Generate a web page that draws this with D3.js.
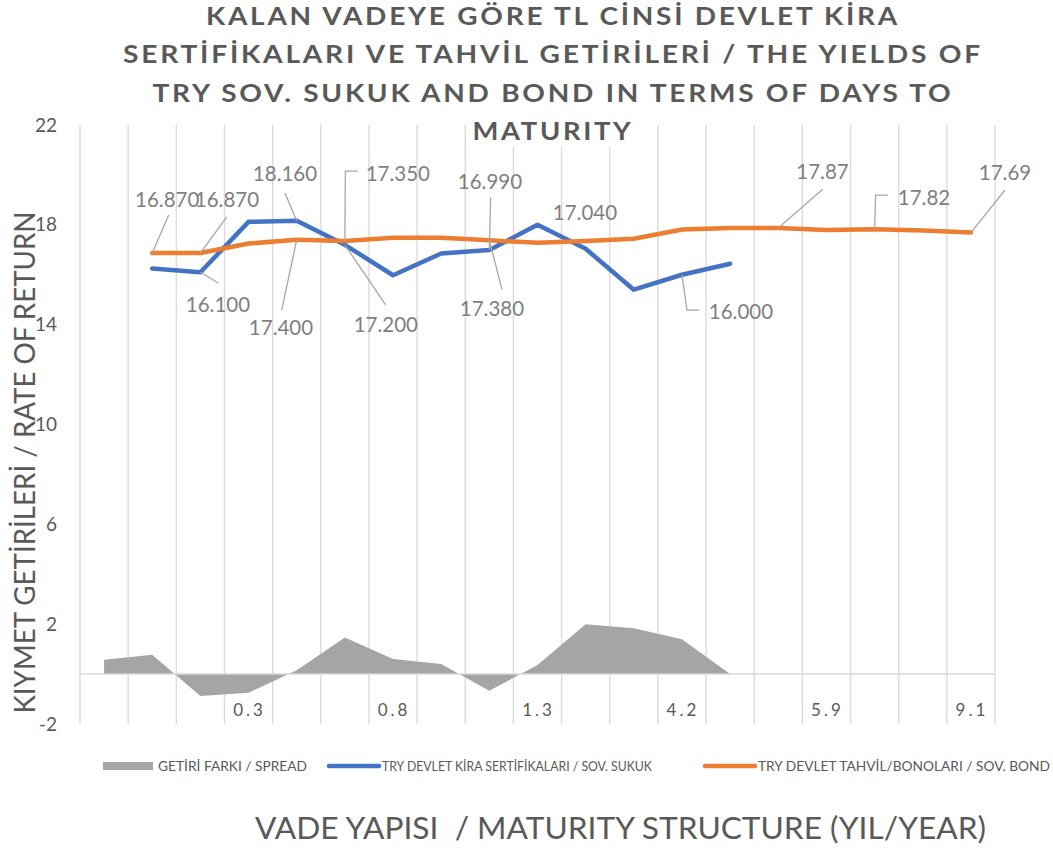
<!DOCTYPE html>
<html>
<head>
<meta charset="utf-8">
<script src="https://cdn.jsdelivr.net/npm/d3@7"></script>
<style>
  body { margin: 0; background: #fff; }
  svg text { font-family: Lato, "Open Sans", sans-serif; }
</style>
</head>
<body>
<div id="chart"></div>
<script>
// maturity categories (only every third one carries a label)
var categories = ["", "", "", "0.3", "", "", "0.8", "", "", "1.3", "", "", "4.2", "", "", "5.9", "", "", "9.1"];
// getiri farki / spread (area)
var spread = [0.57, 0.77, -0.88, -0.75, 0.15, 1.47, 0.60, 0.40, -0.67, 0.36, 2.00, 1.84, 1.40, 0];
// sov. sukuk yields
var sukuk = [null, 16.25, 16.10, 18.12, 18.16, 17.20, 15.98, 16.85, 16.99, 18.00, 17.04, 15.40, 16.00, 16.44];
// sov. bond yields
var bond = [null, 16.87, 16.87, 17.25, 17.40, 17.35, 17.48, 17.48, 17.38, 17.28, 17.35, 17.44, 17.81, 17.87, 17.87, 17.79, 17.82, 17.77, 17.69];
var yTicks = [-2, 2, 6, 10, 14, 18, 22];

var titleLines = [
  "KALAN VADEYE GÖRE TL CİNSİ DEVLET KİRA",
  "SERTİFİKALARI VE TAHVİL GETİRİLERİ / THE YIELDS OF",
  "TRY SOV. SUKUK AND BOND IN TERMS OF DAYS TO",
  "MATURITY"
];

var width = 1053, height = 848;
var grey = "#595959";

var svg = d3.select("#chart").append("svg")
    .attr("width", width)
    .attr("height", height);

var x = d3.scaleBand()
    .domain(d3.range(categories.length))
    .range([80, 995]);
var y = d3.scaleLinear()
    .domain([-2, 22])
    .range([724, 125]);
var cx = function(i) { return x(i) + x.bandwidth() / 2; };

// vertical gridlines between categories
var edges = d3.range(categories.length + 1).map(function(k) { return 80 + k * x.bandwidth(); });
svg.append("g").selectAll("line")
    .data(edges)
    .enter().append("line")
    .attr("x1", function(d) { return d; })
    .attr("x2", function(d) { return d; })
    .attr("y1", y(22))
    .attr("y2", y(-2))
    .attr("stroke", "#d9d9d9")
    .attr("stroke-width", 1.3);

// spread area
var area = d3.area()
    .x(function(d, i) { return cx(i); })
    .y0(y(0))
    .y1(function(d) { return y(d); });
svg.append("path")
    .datum(spread)
    .attr("d", area)
    .attr("fill", "#a5a5a5");

// category axis at zero
svg.append("line")
    .attr("x1", 80).attr("x2", 995)
    .attr("y1", y(0)).attr("y2", y(0))
    .attr("stroke", "#d9d9d9")
    .attr("stroke-width", 1.5);

// y tick labels
svg.append("g").selectAll("text")
    .data(yTicks)
    .enter().append("text")
    .attr("x", 57)
    .attr("y", function(d) { return y(d); })
    .attr("dy", "0.35em")
    .attr("text-anchor", "end")
    .attr("font-size", 19)
    .attr("fill", grey)
    .text(function(d) { return d; });

// x tick labels
svg.append("g").selectAll("text")
    .data(categories.map(function(c, i) { return {c: c, i: i}; }).filter(function(d) { return d.c; }))
    .enter().append("text")
    .attr("x", function(d) { return cx(d.i) + 1; })
    .attr("y", 710)
    .attr("dy", "0.35em")
    .attr("text-anchor", "middle")
    .attr("font-size", 17)
    .attr("letter-spacing", 3)
    .attr("fill", grey)
    .text(function(d) { return d.c; });

// lines
var line = d3.line()
    .defined(function(d) { return d != null; })
    .x(function(d, i) { return cx(i); })
    .y(function(d) { return y(d); });
svg.append("path")
    .datum(sukuk)
    .attr("d", line)
    .attr("fill", "none")
    .attr("stroke", "#4472c4")
    .attr("stroke-width", 4.5)
    .attr("stroke-linejoin", "round")
    .attr("stroke-linecap", "round");
svg.append("path")
    .datum(bond)
    .attr("d", line)
    .attr("fill", "none")
    .attr("stroke", "#ed7d31")
    .attr("stroke-width", 4.5)
    .attr("stroke-linejoin", "round")
    .attr("stroke-linecap", "round");

// data labels: label centre offset and leader points, relative to the point
var labelLayout = [
  {s: bond,  i: 1,  f: 3, dx: 15,   dy: -53,  lead: [[16.5, -38]]},
  {s: bond,  i: 2,  f: 3, dx: 26.6, dy: -53,  lead: [[26.2, -36]]},
  {s: sukuk, i: 2,  f: 3, dx: 17.6, dy: 33,   lead: [[18.3, 11]]},
  {s: sukuk, i: 4,  f: 3, dx: -11.7, dy: -47.5, lead: [[-11.7, -27.5]]},
  {s: bond,  i: 4,  f: 3, dx: -15.7, dy: 88.5, lead: [[-15, 70]]},
  {s: bond,  i: 5,  f: 3, dx: 53,   dy: -67.7, lead: [[0.5, -70], [13, -70]]},
  {s: sukuk, i: 5,  f: 3, dx: 41,   dy: 80,   lead: [[40.8, 60]]},
  {s: sukuk, i: 8,  f: 3, dx: 0.6,  dy: -68.3, lead: [[1.3, -52.7]]},
  {s: bond,  i: 8,  f: 3, dx: 2.6,  dy: 69,   lead: [[12.6, 49]]},
  {s: sukuk, i: 10, f: 3, dx: -0.7, dy: -35.5, lead: []},
  {s: sukuk, i: 12, f: 3, dx: 59,   dy: 37,   lead: [[5, 35.3], [17.3, 35.3]]},
  {s: bond,  i: 14, f: 2, dx: 44.2, dy: -56.4, lead: [[44.4, -38.8]]},
  {s: bond,  i: 16, f: 2, dx: 49.4, dy: -32,  lead: [[1.1, -34.3], [13.4, -34.3]]},
  {s: bond,  i: 18, f: 2, dx: 34.1, dy: -59.3, lead: [[34.1, -42.6]]}
];

var lbl = svg.append("g");
labelLayout.forEach(function(d) {
  var px = cx(d.i), py = y(d.s[d.i]);
  if (d.lead.length) {
    var pts = [[px, py]].concat(d.lead.map(function(p) { return [px + p[0], py + p[1]]; }));
    lbl.append("path")
      .attr("d", d3.line()(pts))
      .attr("fill", "none")
      .attr("stroke", "#a6a6a6")
      .attr("stroke-width", 1.3);
  }
  lbl.append("text")
    .attr("x", px + d.dx)
    .attr("y", py + d.dy)
    .attr("dy", "0.35em")
    .attr("text-anchor", "middle")
    .attr("font-size", 20.5)
    .attr("fill", "#7f7f7f")
    .text(d3.format("." + d.f + "f")(d.s[d.i]));
});

// title
var titleWidths = [694, 860, 801, 161];
var tg = svg.append("g");
titleLines.forEach(function(t, k) {
  var txt = tg.append("text")
    .attr("x", 553)
    .attr("y", 25 + k * 38.3)
    .attr("text-anchor", "middle")
    .attr("font-size", 25.5)
    .attr("font-weight", "bold")
    .attr("letter-spacing", 2.5)
    .attr("fill", grey)
    .attr("textLength", titleWidths[k])
    .attr("lengthAdjust", "spacingAndGlyphs")
    .text(t);
  if (k === titleLines.length - 1) {
    var bb = txt.node().getBBox();
    tg.insert("rect", "text:last-child")
      .attr("x", bb.x - 4).attr("y", bb.y)
      .attr("width", bb.width + 8).attr("height", bb.height + 2)
      .attr("fill", "#fff");
  }
});

// axis titles
svg.append("text")
    .attr("transform", "translate(35,462.5) rotate(-90)")
    .attr("text-anchor", "middle")
    .attr("font-size", 28)
    .attr("fill", grey)
    .attr("textLength", 502)
    .attr("lengthAdjust", "spacingAndGlyphs")
    .text("KIYMET GETİRİLERİ / RATE OF RETURN");

svg.append("text")
    .attr("x", 620.5)
    .attr("y", 839)
    .attr("text-anchor", "middle")
    .attr("font-size", 31)
    .attr("fill", grey)
    .attr("textLength", 731)
    .attr("lengthAdjust", "spacingAndGlyphs")
    .text("VADE YAPISI\u00a0 / MATURITY STRUCTURE (YIL/YEAR)");

// legend
var legendItems = [
  {name: "GETİRİ FARKI / SPREAD", color: "#a5a5a5", type: "rect", x: 103, w: 149},
  {name: "TRY DEVLET KİRA SERTİFİKALARI / SOV. SUKUK", color: "#4472c4", type: "line", x: 327, w: 270},
  {name: "TRY DEVLET TAHVİL/BONOLARI / SOV. BOND", color: "#ed7d31", type: "line", x: 703, w: 292}
];
var lg = svg.append("g").selectAll("g")
    .data(legendItems)
    .enter().append("g")
    .attr("transform", function(d) { return "translate(" + d.x + ",766)"; });
lg.filter(function(d) { return d.type === "rect"; }).append("rect")
    .attr("x", 0).attr("y", -4).attr("width", 50).attr("height", 8)
    .attr("fill", function(d) { return d.color; });
lg.filter(function(d) { return d.type === "line"; }).append("line")
    .attr("x1", 2).attr("x2", 52).attr("y1", 0).attr("y2", 0)
    .attr("stroke", function(d) { return d.color; })
    .attr("stroke-width", 4.5)
    .attr("stroke-linecap", "round");
lg.append("text")
    .attr("x", 55)
    .attr("y", 0)
    .attr("dy", "0.35em")
    .attr("font-size", 13.5)
    .attr("fill", grey)
    .attr("textLength", function(d) { return d.w; })
    .attr("lengthAdjust", "spacingAndGlyphs")
    .text(function(d) { return d.name; });
</script>
</body>
</html>
